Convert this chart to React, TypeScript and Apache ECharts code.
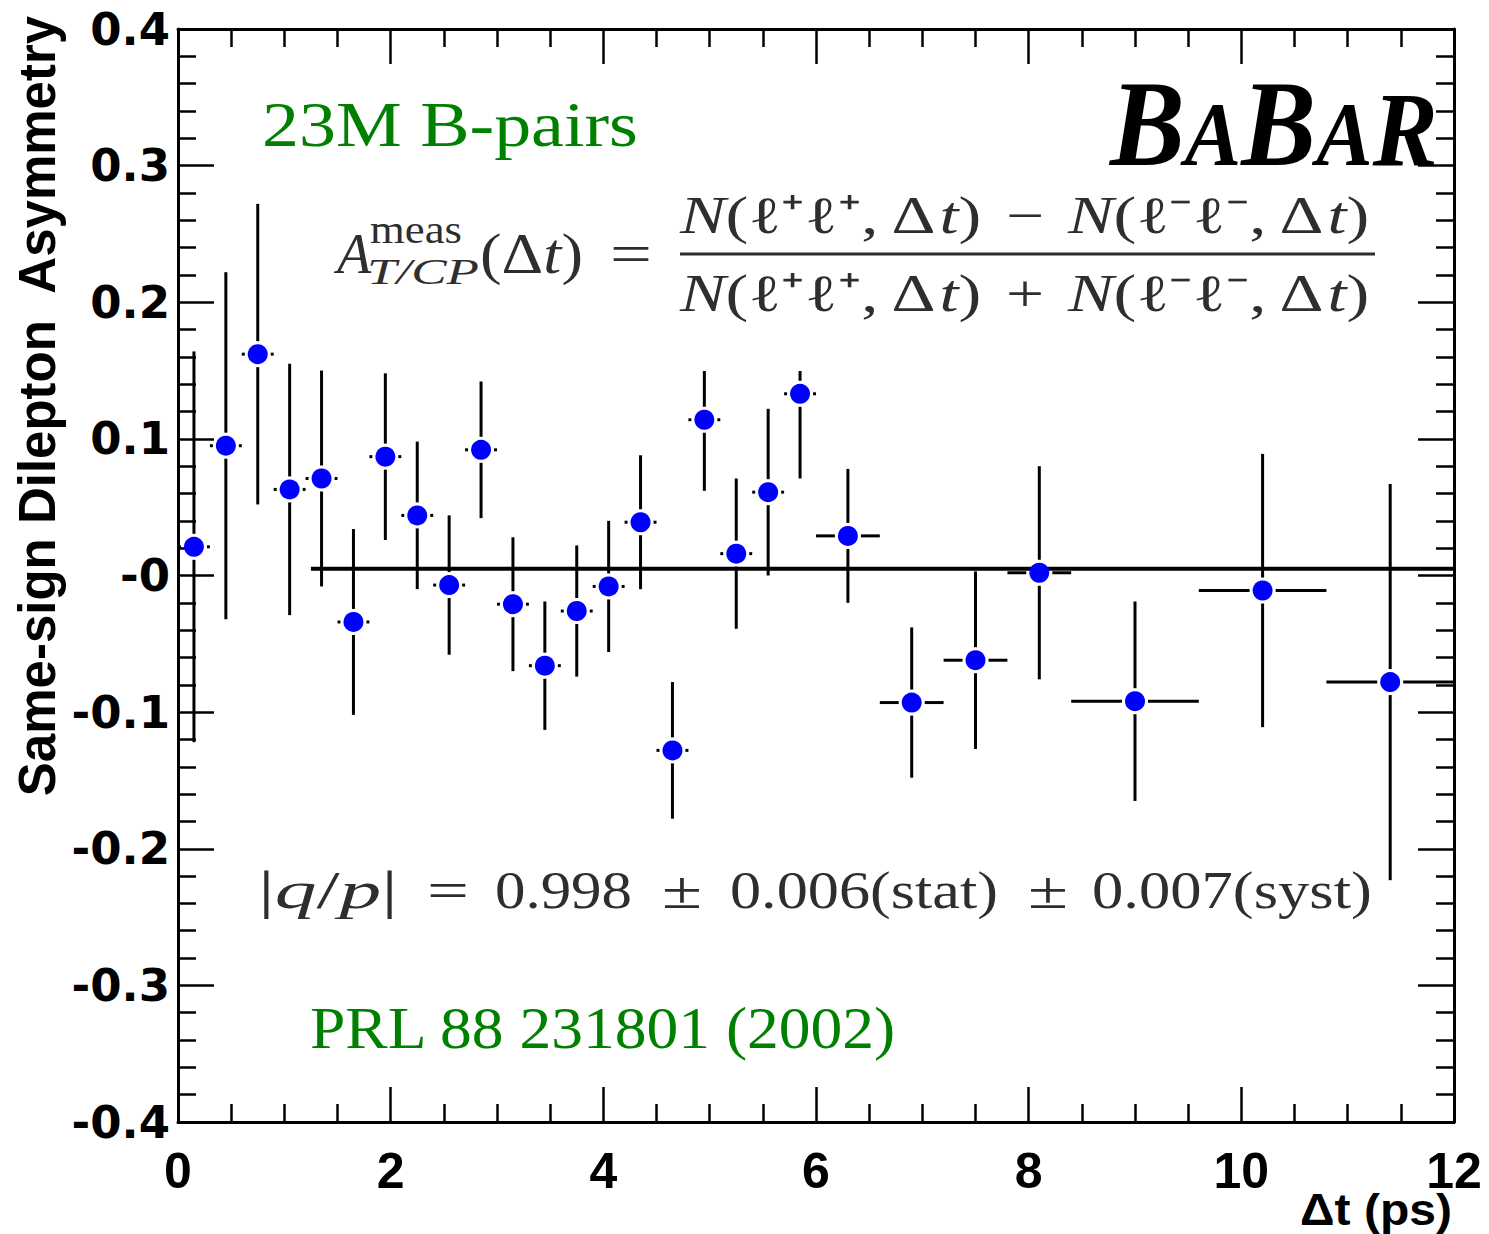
import React, { useEffect, useRef } from "react";
import * as echarts from "echarts";

// ---- data ----
const dtCenters = [
  0.15, 0.45, 0.75, 1.05, 1.35, 1.65, 1.95, 2.25, 2.55, 2.85, 3.15, 3.45, 3.75, 4.05,
  4.35, 4.65, 4.95, 5.25, 5.55, 5.85, 6.3, 6.9, 7.5, 8.1, 9.0, 10.2, 11.4,
];
const dtHalfWidths = [
  0.15, 0.15, 0.15, 0.15, 0.15, 0.15, 0.15, 0.15, 0.15, 0.15, 0.15, 0.15, 0.15, 0.15,
  0.15, 0.15, 0.15, 0.15, 0.15, 0.15, 0.3, 0.3, 0.3, 0.3, 0.6, 0.6, 0.6,
];
const asymmetry = [
  0.021, 0.095, 0.162, 0.063, 0.071, -0.034, 0.087, 0.044, -0.007, 0.092, -0.021, -0.066,
  -0.026, -0.008, 0.039, -0.128, 0.114, 0.016, 0.061, 0.133, 0.029, -0.093, -0.062, 0.002,
  -0.092, -0.011, -0.078,
];
const asymErrors = [
  0.143, 0.127, 0.11, 0.092, 0.079, 0.068, 0.061, 0.054, 0.051, 0.05, 0.049, 0.047, 0.048,
  0.048, 0.049, 0.05, 0.052, 0.055, 0.061, 0.062, 0.049, 0.055, 0.065, 0.078, 0.073, 0.1,
  0.145,
];
const fitRange = [1.25, 12];
const fitValue = 0.005;
const xTickLabels = ["0", "2", "4", "6", "8", "10", "12"];
const yTickLabels = ["-0.4", "-0.3", "-0.2", "-0.1", "-0", "0.1", "0.2", "0.3", "0.4"];

// ---- styling ----
const INK = "#2e2e2e";
const GREEN = "#008000";
const SERIF = '"Liberation Serif", "Times New Roman", serif';
const SANS = '"Liberation Sans", Arial, sans-serif';

let measureCtx: CanvasRenderingContext2D | null = null;
function measure(text: string, font: string): number {
  if (!measureCtx) measureCtx = document.createElement("canvas").getContext("2d");
  measureCtx!.font = font;
  return measureCtx!.measureText(text).width;
}

type TOpts = {
  italic?: boolean;
  bold?: boolean;
  color?: string;
  width?: number;
  family?: string;
  align?: string;
  scaleX?: number;
};

function label(text: string, x: number, baseline: number, size: number, o: TOpts = {}) {
  const family = o.family || SERIF;
  const fontStyle = o.italic ? "italic" : "normal";
  const fontWeight = o.bold ? "bold" : "normal";
  const plain = text.replace(/\{\w+\|([^}]*)\}/g, "$1");
  let scaleX = o.scaleX ?? 1;
  if (o.width) {
    const w = measure(plain, `${fontStyle} ${fontWeight} ${size}px ${family}`);
    if (w > 0) scaleX = o.width / w;
  }
  const fill = o.color || INK;
  const align = o.align || "left";
  return {
    type: "text",
    x,
    y: baseline - 0.34 * size,
    scaleX,
    z: 101,
    silent: true,
    style: {
      text,
      fill,
      fontSize: size,
      fontFamily: family,
      fontStyle,
      fontWeight,
      align,
      textAlign: align,
      verticalAlign: "middle",
      textVerticalAlign: "middle",
      rich: {
        i: { fontStyle: "italic", fontSize: size, fontFamily: family, fill, fontWeight },
      },
    },
  };
}

export default function App() {
  const ref = useRef<HTMLDivElement>(null);

  useEffect(() => {
    if (!ref.current) return;
    const chart = echarts.init(ref.current, null, { renderer: "svg" });

    const errData = dtCenters.map((x, i) => [x, asymmetry[i], dtHalfWidths[i], asymErrors[i]]);
    const ptData = dtCenters.map((x, i) => [x, asymmetry[i]]);

    const axisLine = { show: true, onZero: false, lineStyle: { color: "#000", width: 3 } };
    const xTick = { show: true, inside: true, length: 35, lineStyle: { color: "#000", width: 2.5 } };
    const xMinor = { show: true, splitNumber: 4, length: 18, lineStyle: { color: "#000", width: 2.5 } };
    const yTick = { show: true, inside: true, length: 36, lineStyle: { color: "#000", width: 2.5 } };
    const yMinor = { show: true, splitNumber: 5, length: 18, lineStyle: { color: "#000", width: 2.5 } };

    const logoFont = { fontFamily: SERIF, fontWeight: "bold", fontStyle: "italic", fill: "#000" };

    const option: any = {
      animation: false,
      backgroundColor: "#ffffff",
      grid: { left: 178, right: 35, top: 29, bottom: 112, containLabel: false },
      xAxis: [
        {
          type: "value",
          min: 0,
          max: 12,
          interval: 2,
          position: "bottom",
          axisLine,
          axisTick: xTick,
          minorTick: xMinor,
          splitLine: { show: false },
          axisLabel: {
            show: true,
            margin: 24,
            color: "#000",
            fontFamily: SANS,
            fontWeight: "bold",
            fontSize: 50,
            formatter: (v: number) => xTickLabels[Math.round(v / 2)],
          },
        },
        {
          type: "value",
          min: 0,
          max: 12,
          interval: 2,
          position: "top",
          axisLine,
          axisTick: xTick,
          minorTick: xMinor,
          splitLine: { show: false },
          axisLabel: { show: false },
        },
      ],
      yAxis: [
        {
          type: "value",
          min: -0.4,
          max: 0.4,
          interval: 0.1,
          position: "left",
          axisLine,
          axisTick: yTick,
          minorTick: yMinor,
          splitLine: { show: false },
          axisLabel: {
            show: true,
            margin: 8,
            color: "#000",
            fontFamily: '"DejaVu Sans", sans-serif',
            fontWeight: "bold",
            fontSize: 45,
            formatter: (v: number) => yTickLabels[Math.round((v + 0.4) / 0.1)],
          },
        },
        {
          type: "value",
          min: -0.4,
          max: 0.4,
          interval: 0.1,
          position: "right",
          axisLine,
          axisTick: yTick,
          minorTick: yMinor,
          splitLine: { show: false },
          axisLabel: { show: false },
        },
      ],
      series: [
        {
          type: "line",
          xAxisIndex: 0,
          yAxisIndex: 0,
          data: [
            [fitRange[0], fitValue],
            [fitRange[1], fitValue],
          ],
          symbol: "none",
          lineStyle: { color: "#000", width: 4 },
          z: 2,
        },
        {
          type: "custom",
          xAxisIndex: 0,
          yAxisIndex: 0,
          data: errData,
          encode: { x: 0, y: 1 },
          z: 3,
          renderItem: (_params: any, api: any) => {
            const x = api.value(0);
            const y = api.value(1);
            const hw = api.value(2);
            const err = api.value(3);
            const c = api.coord([x, y]);
            const l = api.coord([x - hw, y])[0];
            const r = api.coord([x + hw, y])[0];
            const t = api.coord([x, y + err])[1];
            const b = api.coord([x, y - err])[1];
            const gap = 13;
            const children: any[] = [];
            const seg = (x1: number, y1: number, x2: number, y2: number) =>
              children.push({
                type: "line",
                shape: { x1, y1, x2, y2 },
                style: { stroke: "#000", lineWidth: 3 },
              });
            if (c[1] - gap > t) seg(c[0], c[1] - gap, c[0], t);
            if (b > c[1] + gap) seg(c[0], c[1] + gap, c[0], b);
            if (c[0] - gap > l) seg(l, c[1], c[0] - gap, c[1]);
            if (r > c[0] + gap) seg(c[0] + gap, c[1], r, c[1]);
            return { type: "group", children };
          },
        },
        {
          type: "scatter",
          xAxisIndex: 0,
          yAxisIndex: 0,
          data: ptData,
          symbol: "circle",
          symbolSize: 20,
          itemStyle: { color: "#0000ff", opacity: 1 },
          z: 4,
        },
      ],
      graphic: [
        // white pave behind the formula (hides error bars above it, as in the original)
        {
          type: "rect",
          shape: { x: 330, y: 176, width: 1080, height: 195 },
          style: { fill: "#ffffff" },
          z: 100,
          silent: true,
        },
        // y-axis title
        {
          type: "text",
          x: 37,
          y: 406,
          rotation: Math.PI / 2,
          z: 101,
          style: {
            text: "Same-sign Dilepton  Asymmetry",
            fill: "#000",
            fontSize: 51,
            fontFamily: SANS,
            fontWeight: "bold",
            align: "center",
            textAlign: "center",
            verticalAlign: "middle",
            textVerticalAlign: "middle",
          },
        },
        // x-axis title
        label("Δt (ps)", 1452, 1225, 44, {
          family: SANS,
          bold: true,
          color: "#000",
          align: "right",
          width: 152,
        }),
        // green annotations
        label("23M B-pairs", 262, 146, 63, { color: GREEN, width: 376 }),
        label("PRL 88 231801 (2002)", 310, 1048, 60, { color: GREEN, width: 588 }),
        // BaBar logo (one rich text)
        {
          type: "text",
          x: 1110,
          y: 124,
          scaleX: 0.92,
          z: 101,
          silent: true,
          style: {
            text: "{b|B}{a|A}{b|B}{a|A}{r|R}",
            ...logoFont,
            fontSize: 122,
            align: "left",
            textAlign: "left",
            verticalAlign: "middle",
            textVerticalAlign: "middle",
            rich: {
              b: { ...logoFont, fontSize: 122, verticalAlign: "bottom" },
              a: { ...logoFont, fontSize: 92, verticalAlign: "bottom", padding: [0, 0, 5, 0] },
              r: { ...logoFont, fontSize: 106, verticalAlign: "bottom", padding: [0, 0, 3, 0] },
            },
          },
        },
        // formula: left-hand side
        label("A", 337, 273, 56, { italic: true }),
        label("meas", 370, 243, 40, { width: 92 }),
        label("T/CP", 367, 284, 36, { italic: true, width: 112 }),
        label("(Δ{i|t})", 480, 273, 56, { width: 103 }),
        label("=", 610, 273, 56, { width: 42 }),
        // numerator
        label("{i|N}(ℓ⁺ℓ⁺, Δ{i|t})", 680, 233, 52, { width: 305 }),
        label("−", 1006, 233, 52, { width: 38 }),
        label("{i|N}(ℓ⁻ℓ⁻, Δ{i|t})", 1068, 233, 52, { width: 305 }),
        // fraction bar
        {
          type: "line",
          shape: { x1: 680, y1: 254, x2: 1375, y2: 254 },
          style: { stroke: INK, lineWidth: 3 },
          z: 101,
          silent: true,
        },
        // denominator
        label("{i|N}(ℓ⁺ℓ⁺, Δ{i|t})", 680, 311, 52, { width: 305 }),
        label("+", 1006, 311, 52, { width: 38 }),
        label("{i|N}(ℓ⁻ℓ⁻, Δ{i|t})", 1068, 311, 52, { width: 305 }),
        // |q/p| result
        label("|{i|q}/{i|p}|", 258, 908, 52, { width: 140 }),
        label("=", 427, 908, 52, { width: 42 }),
        label("0.998", 495, 908, 52, { width: 137 }),
        label("±", 662, 908, 52, { width: 40 }),
        label("0.006(stat)", 730, 908, 52, { width: 268 }),
        label("±", 1028, 908, 52, { width: 40 }),
        label("0.007(syst)", 1092, 908, 52, { width: 280 }),
      ],
    };

    chart.setOption(option);
    return () => chart.dispose();
  }, []);

  return (
    <div
      ref={ref}
      style={{ position: "fixed", left: 0, top: 0, width: 1489, height: 1234, background: "#fff" }}
    />
  );
}
